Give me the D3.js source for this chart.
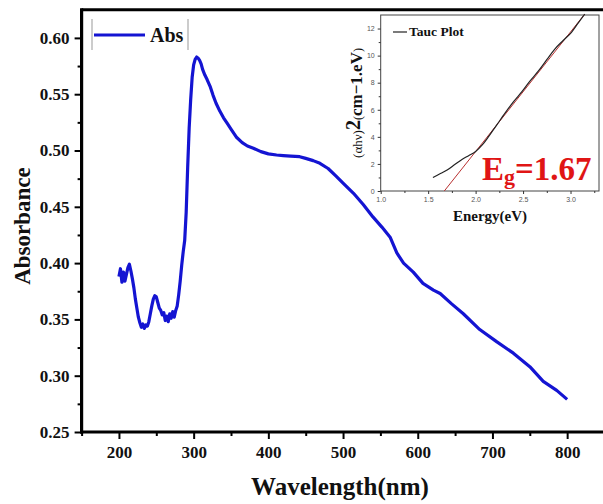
<!DOCTYPE html>
<html>
<head>
<meta charset="utf-8">
<script src="https://cdn.jsdelivr.net/npm/d3@7"></script>
<style>
  body { margin: 0; background: #fff; }
  svg { display: block; }
  text { font-family: "Liberation Serif", "Times New Roman", serif; font-weight: bold; }
</style>
</head>
<body>
<svg id="chart" width="603" height="504"></svg>
<script>
// UV-Vis absorbance spectrum
const wavelength = [200,202,204,206,208,210,212,214,216,218,220,222,224,226,228,230,232,234,236,238,
  240,242,244,246,248,250,252,254,256,258,260,262,264,266,268,270,272,274,276,278,280,282,284,286,288,
  290,292,294,296,298,300,302,304,306,308,310,312,315,318,322,326,330,335,340,345,350,357,365,372,380,
  390,400,411,420,430,442,450,460,469,480,491,500,514,527,540,552,563,572,581,594,607,621,630,645,661,
  683,706,728,750,768,786,800];
const absorbance = [0.388,0.395,0.383,0.392,0.384,0.390,0.396,0.399,0.393,0.386,0.378,0.368,0.360,0.352,0.347,0.343,0.346,0.342,0.345,0.344,
  0.348,0.355,0.362,0.368,0.371,0.370,0.365,0.360,0.358,0.354,0.356,0.349,0.353,0.348,0.355,0.351,0.357,0.352,0.358,0.362,0.372,0.384,0.398,0.410,0.420,
  0.445,0.485,0.520,0.545,0.565,0.576,0.581,0.583,0.582,0.580,0.577,0.572,0.567,0.563,0.557,0.549,0.542,0.535,0.529,0.524,0.519,0.512,0.507,0.504,0.502,
  0.499,0.497,0.496,0.4955,0.495,0.4945,0.493,0.491,0.4886,0.484,0.477,0.471,0.462,0.452,0.441,0.432,0.423,0.409,0.400,0.392,0.382,0.376,0.373,0.364,0.355,
  0.341,0.330,0.320,0.308,0.295,0.287,0.279];
const xTicks = [200, 300, 400, 500, 600, 700, 800];
const yTicks = [0.25, 0.30, 0.35, 0.40, 0.45, 0.50, 0.55, 0.60];

// Tauc plot (inset)
const energy = [1.55, 1.62, 1.70, 1.78, 1.86, 1.93, 2.00, 2.07, 2.14, 2.22, 2.31, 2.40, 2.49, 2.57, 2.66, 2.75, 2.83, 2.92, 3.01, 3.08, 3.15];
const tauc =   [1.0, 1.25, 1.55, 1.95, 2.35, 2.62, 2.92, 3.4, 4.05, 4.85, 5.75, 6.6, 7.35, 8.1, 8.85, 9.7, 10.45, 11.1, 11.72, 12.4, 13.07];
const insetXTicks = [1.0, 1.5, 2.0, 2.5, 3.0];
const insetYTicks = [0, 2, 4, 6, 8, 10, 12];
const bandGap = 1.67;
const fitEnd = [3.15, 13.07];

const svg = d3.select("#chart");
const blue = "#1414d2";

// ---------- main plot ----------
const x = d3.scaleLinear().domain([150, 850]).range([81.6, 604.5]);
const y = d3.scaleLinear().domain([0.25, 0.625]).range([432, 9.75]);

const xMinor = d3.range(150, 851, 50).filter(v => !xTicks.includes(v));
const yMinor = d3.range(0, 15).map(i => +(0.275 + i * 0.05).toFixed(3)).filter(v => v < 0.625);

function styleAxis(g, sw) {
  g.select(".domain").remove();
  g.selectAll(".tick line").attr("stroke", "#000").attr("stroke-width", sw);
}

// frame
svg.append("line").attr("x1", x(150)).attr("x2", 603).attr("y1", y(0.625)).attr("y2", y(0.625))
  .attr("stroke", "#000").attr("stroke-width", 3);

const gxMinor = svg.append("g").attr("transform", `translate(0,${y(0.25)})`)
  .call(d3.axisBottom(x).tickValues(xMinor).tickSize(4).tickFormat(""));
styleAxis(gxMinor, 2);
const gx = svg.append("g").attr("transform", `translate(0,${y(0.25)})`)
  .call(d3.axisBottom(x).tickValues(xTicks).tickSize(7).tickPadding(7).tickFormat(d3.format("d")));
styleAxis(gx, 2);
gx.selectAll("text").attr("font-size", 17).attr("fill", "#111")
  .style("font-family", "'Liberation Serif', serif").style("font-weight", "bold");

const gyMinor = svg.append("g").attr("transform", `translate(${x(150)},0)`)
  .call(d3.axisLeft(y).tickValues(yMinor).tickSize(4).tickFormat(""));
styleAxis(gyMinor, 2);
const gy = svg.append("g").attr("transform", `translate(${x(150)},0)`)
  .call(d3.axisLeft(y).tickValues(yTicks).tickSize(7).tickPadding(5).tickFormat(d3.format(".2f")));
styleAxis(gy, 2);
gy.selectAll("text").attr("font-size", 17).attr("fill", "#111")
  .style("font-family", "'Liberation Serif', serif").style("font-weight", "bold");

svg.append("line").attr("x1", x(150)).attr("x2", x(150)).attr("y1", y(0.625) - 1.5).attr("y2", y(0.25) + 1.5)
  .attr("stroke", "#000").attr("stroke-width", 3.2);
svg.append("line").attr("x1", x(150) - 1.5).attr("x2", 603).attr("y1", y(0.25)).attr("y2", y(0.25))
  .attr("stroke", "#000").attr("stroke-width", 3.2);

// spectrum
const spec = wavelength.map((w, i) => [w, absorbance[i]]);
svg.append("path").datum(spec)
  .attr("d", d3.line().x(d => x(d[0])).y(d => y(d[1])))
  .attr("fill", "none").attr("stroke", blue).attr("stroke-width", 3.2).attr("stroke-linejoin", "round");

// axis titles
svg.append("text").attr("x", 340).attr("y", 495).attr("text-anchor", "middle")
  .attr("font-size", 25).attr("fill", "#111").text("Wavelength(nm)");
svg.append("text").attr("transform", "translate(30,226) rotate(-90)").attr("text-anchor", "middle")
  .attr("font-size", 23).attr("fill", "#111").text("Absorbance");

// legend
const lg = svg.append("g");
lg.append("line").attr("x1", 92).attr("x2", 92).attr("y1", 19).attr("y2", 50).attr("stroke", "#999").attr("stroke-width", 1);
lg.append("line").attr("x1", 188).attr("x2", 188).attr("y1", 19).attr("y2", 50).attr("stroke", "#999").attr("stroke-width", 1);
lg.append("line").attr("x1", 94).attr("x2", 145).attr("y1", 35).attr("y2", 35).attr("stroke", blue).attr("stroke-width", 3);
lg.append("text").attr("x", 150).attr("y", 42).attr("font-size", 20).attr("fill", "#111").text("Abs");

// ---------- inset: Tauc plot ----------
const ix = d3.scaleLinear().domain([1.0, 3.3]).range([380.7, 599]);
const iy = d3.scaleLinear().domain([0, 13]).range([191, 15]);
const inset = svg.append("g");
inset.append("rect").attr("x", ix(1.0)).attr("y", iy(13)).attr("width", ix(3.3) - ix(1.0)).attr("height", iy(0) - iy(13))
  .attr("fill", "#fff").attr("stroke", "#444").attr("stroke-width", 1);

const ixMinor = d3.range(0, 10).map(i => +(1.25 + i * 0.5).toFixed(2)).filter(v => v < 3.3);
const iyMinor = d3.range(1, 13, 2);

function styleInset(g) {
  g.select(".domain").remove();
  g.selectAll(".tick line").attr("stroke", "#333").attr("stroke-width", 1);
  g.selectAll("text").attr("font-size", 7).attr("fill", "#555")
    .style("font-family", "'Liberation Sans', Arial, sans-serif").style("font-weight", "normal");
}
const igxm = inset.append("g").attr("transform", `translate(0,${iy(0)})`)
  .call(d3.axisBottom(ix).tickValues(ixMinor).tickSize(2).tickFormat(""));
styleInset(igxm);
const igx = inset.append("g").attr("transform", `translate(0,${iy(0)})`)
  .call(d3.axisBottom(ix).tickValues(insetXTicks).tickSize(3).tickPadding(3).tickFormat(d3.format(".1f")));
styleInset(igx);
const igym = inset.append("g").attr("transform", `translate(${ix(1.0)},0)`)
  .call(d3.axisLeft(iy).tickValues(iyMinor).tickSize(2).tickFormat(""));
styleInset(igym);
const igy = inset.append("g").attr("transform", `translate(${ix(1.0)},0)`)
  .call(d3.axisLeft(iy).tickValues(insetYTicks).tickSize(3).tickPadding(3).tickFormat(d3.format("d")));
styleInset(igy);

// linear fit extrapolated to the energy axis
inset.append("line").attr("x1", ix(bandGap)).attr("y1", iy(0)).attr("x2", ix(fitEnd[0])).attr("y2", iy(fitEnd[1]))
  .attr("stroke", "#b83030").attr("stroke-width", 1);
const tp = energy.map((e, i) => [e, tauc[i]]);
inset.append("path").datum(tp)
  .attr("d", d3.line().curve(d3.curveMonotoneX).x(d => ix(d[0])).y(d => iy(d[1])))
  .attr("fill", "none").attr("stroke", "#222").attr("stroke-width", 1.2);

// inset legend
inset.append("line").attr("x1", 393).attr("x2", 407).attr("y1", 32).attr("y2", 32).attr("stroke", "#222").attr("stroke-width", 1.2);
inset.append("text").attr("x", 409).attr("y", 36).attr("font-size", 13.5).attr("fill", "#111").text("Tauc Plot");

// inset axis titles
inset.append("text").attr("x", 490).attr("y", 221).attr("text-anchor", "middle")
  .attr("font-size", 15).attr("fill", "#111").text("Energy(eV)");
const ylab = inset.append("text").attr("transform", "translate(362,103) rotate(-90)").attr("text-anchor", "middle").attr("fill", "#111");
ylab.append("tspan").attr("font-size", 13).style("font-weight", "normal").text("(αhν)");
ylab.append("tspan").attr("font-size", 20).attr("dy", -2).text("2");
ylab.append("tspan").attr("font-size", 12).attr("dy", 2).style("font-weight", "normal").text("(");
ylab.append("tspan").attr("font-size", 17).text("cm−1.eV");
ylab.append("tspan").attr("font-size", 12).style("font-weight", "normal").text(")");

// band gap annotation
const eg = inset.append("text").attr("x", 482).attr("y", 180).attr("fill", "#e01515").attr("font-size", 33);
eg.append("tspan").text("E");
eg.append("tspan").attr("font-size", 22).attr("dy", 4).text("g");
eg.append("tspan").attr("dy", -4).text("=" + bandGap.toFixed(2));
</script>
</body>
</html>
